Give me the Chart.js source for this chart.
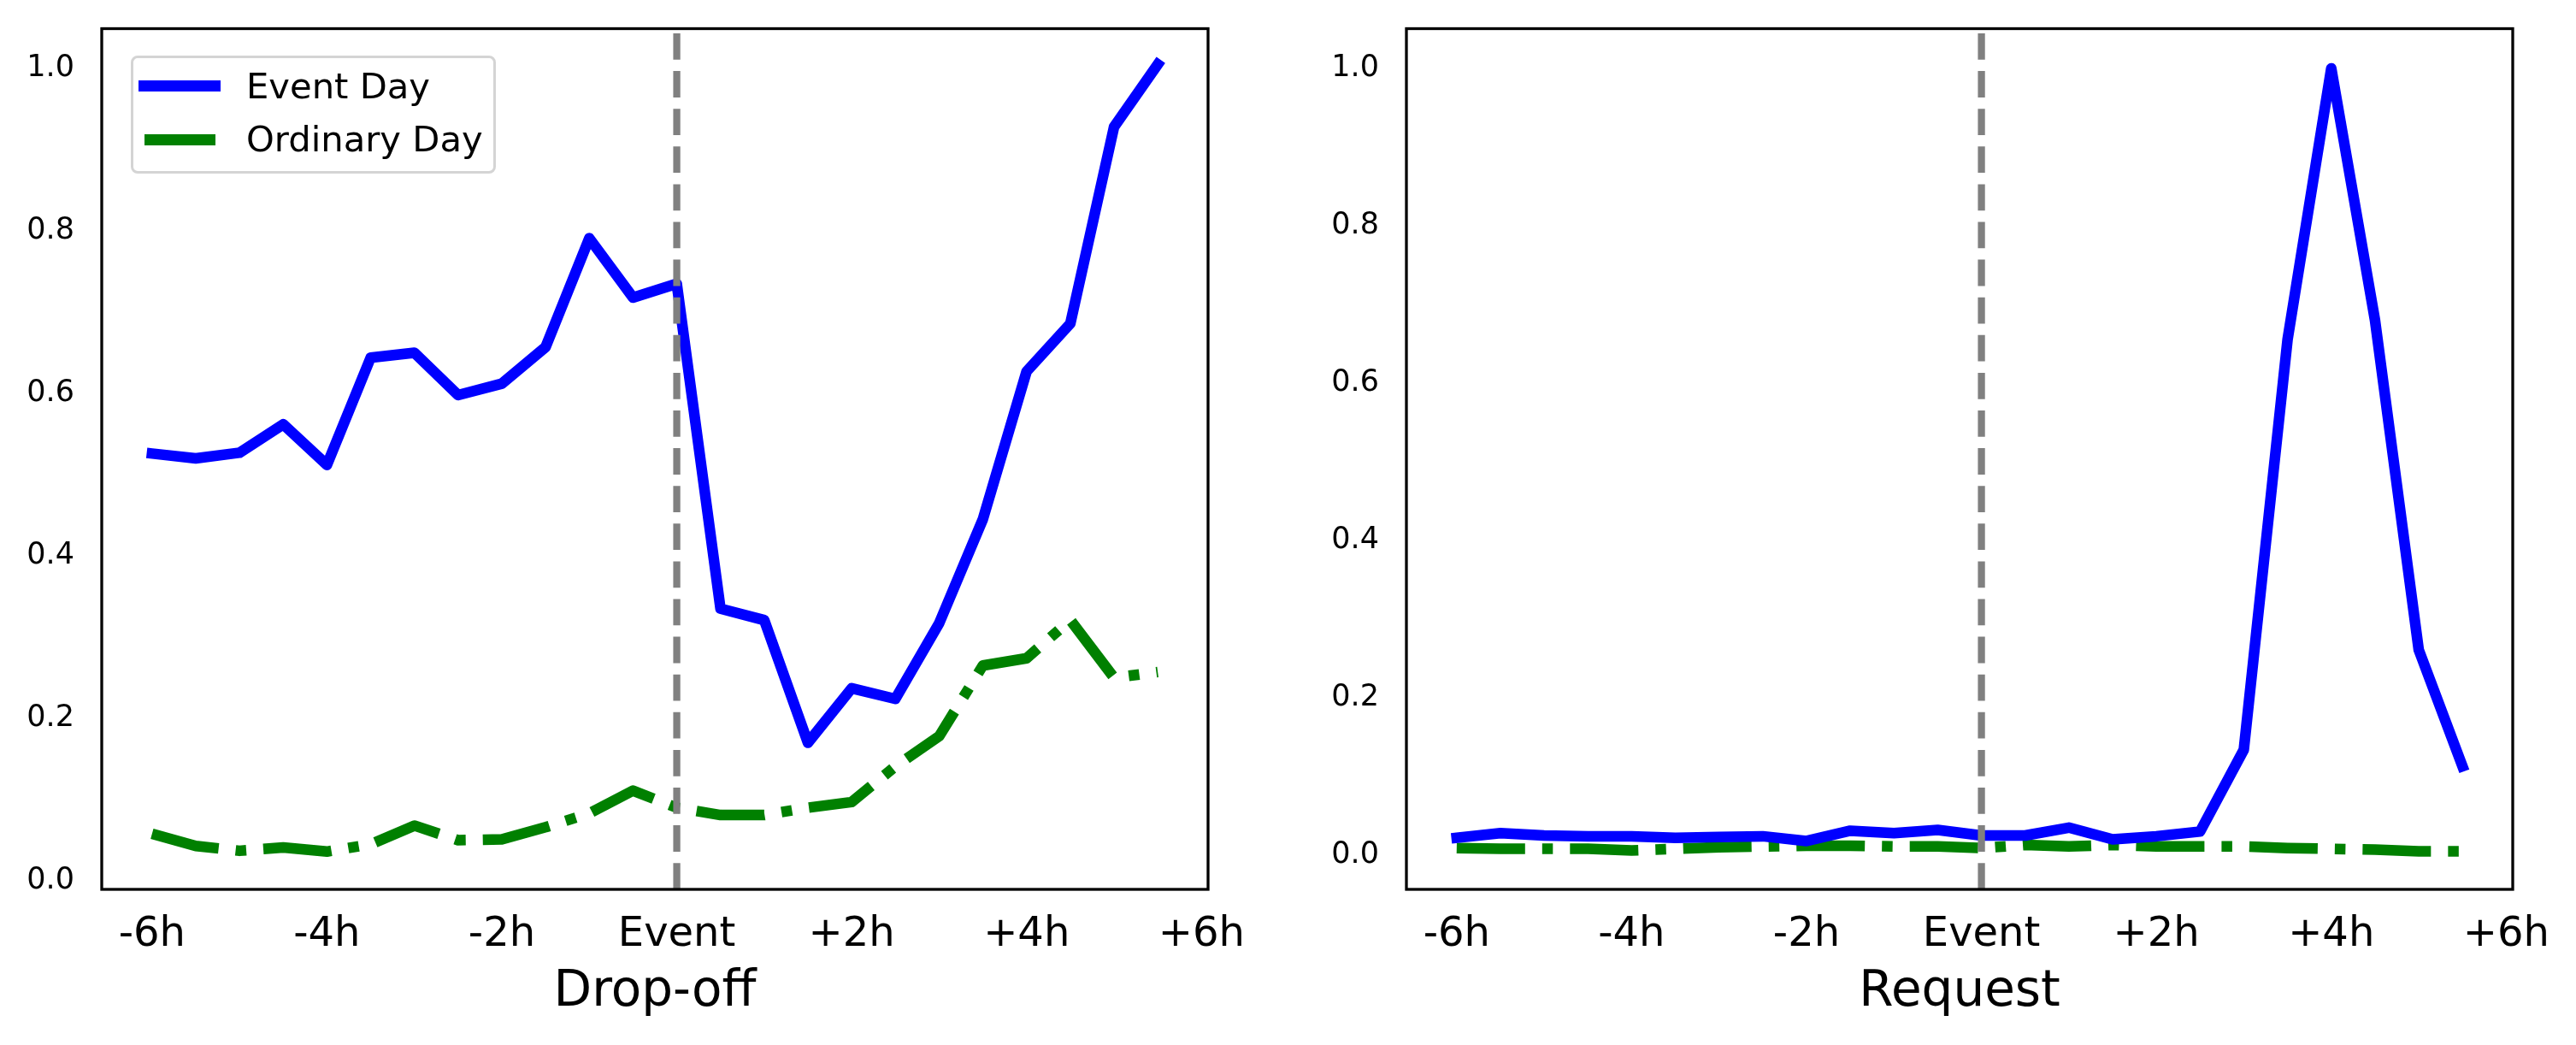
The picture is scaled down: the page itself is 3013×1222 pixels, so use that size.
<!DOCTYPE html>
<html>
<head>
<meta charset="utf-8">
<script src="https://cdn.jsdelivr.net/npm/chart.js@4.4.0/dist/chart.umd.min.js"></script>
<style>
  html, body { margin: 0; padding: 0; background: #fff; }
  body { width: 3013px; height: 1222px; position: relative; overflow: hidden; font-family: "DejaVu Sans"; }
  canvas { position: absolute; top: 0; }
  #dropCanvas { left: 0; }
  #reqCanvas { left: 1506px; }
  #legend {
    position: absolute; left: 153px; top: 65px; width: 421px; height: 132px;
    border: 3px solid #d4d4d4; border-radius: 8px; background: rgba(255,255,255,0.8);
  }
  #legend .swatch { position: absolute; }
  #legend .label {
    position: absolute; left: 132px; font-size: 41.7px; line-height: 41.7px;
    color: #000; white-space: nowrap;
  }
</style>
</head>
<body>
<canvas id="dropCanvas" width="1506" height="1222"></canvas>
<canvas id="reqCanvas" width="1507" height="1222"></canvas>
<div id="legend"></div>

<script>
// half-hour steps around the event
const hours = [-6, -5.5, -5, -4.5, -4, -3.5, -3, -2.5, -2, -1.5, -1, -0.5,
               0, 0.5, 1, 1.5, 2, 2.5, 3, 3.5, 4, 4.5, 5, 5.5];

const tickHours = [-6, -4, -2, 0, 2, 4, 6];
const tickLabels = ['-6h', '-4h', '-2h', 'Event', '+2h', '+4h', '+6h'];
const yTicks = [0, 0.2, 0.4, 0.6, 0.8, 1.0];

const dropEvent = [0.526, 0.520, 0.527, 0.562, 0.512, 0.644, 0.650, 0.598, 0.612, 0.657, 0.791, 0.718,
                   0.735, 0.335, 0.321, 0.170, 0.237, 0.224, 0.317, 0.445, 0.627, 0.686, 0.928, 1.005];
const dropOrdinary = [0.058, 0.043, 0.037, 0.041, 0.036, 0.045, 0.068, 0.050, 0.051, 0.066, 0.083, 0.111,
                      0.090, 0.081, 0.081, 0.090, 0.097, 0.141, 0.178, 0.265, 0.274, 0.321, 0.250, 0.257];

const reqEvent = [0.022, 0.028, 0.025, 0.024, 0.024, 0.022, 0.023, 0.024, 0.018, 0.031, 0.028, 0.032,
                  0.025, 0.025, 0.035, 0.020, 0.024, 0.030, 0.134, 0.655, 1.000, 0.680, 0.261, 0.113];
const reqOrdinary = [0.009, 0.008, 0.008, 0.008, 0.006, 0.008, 0.010, 0.011, 0.012, 0.012, 0.011, 0.011,
                     0.009, 0.013, 0.011, 0.013, 0.011, 0.011, 0.011, 0.009, 0.008, 0.007, 0.005, 0.005];

const X_MIN = -6.575, X_MAX = 6.075;
const FONT = 'DejaVu Sans';

// black box around the plot area
const frame = {
  id: 'frame',
  afterDraw(chart) {
    const { ctx, chartArea: a } = chart;
    ctx.save();
    ctx.strokeStyle = '#000';
    ctx.lineWidth = 3.3;
    ctx.strokeRect(a.left, a.top, a.right - a.left, a.bottom - a.top);
    ctx.restore();
  }
};

// html legend built from the chart's datasets
const htmlLegend = {
  id: 'htmlLegend',
  afterUpdate(chart, args, opts) {
    const box = document.getElementById(opts.containerID);
    box.innerHTML = '';
    chart.data.datasets.filter(d => d.label).forEach((d, i) => {
      const w = 83 + (d.borderCapStyle === 'square' ? d.borderWidth : 0);
      const sw = document.createElement('div');
      sw.className = 'swatch';
      sw.style.background = d.borderColor;
      sw.style.width = w + 'px';
      sw.style.height = d.borderWidth + 'px';
      sw.style.left = (54 - w / 2) + 'px';
      sw.style.top = (32.6 + 62.8 * i - d.borderWidth / 2) + 'px';
      const lb = document.createElement('div');
      lb.className = 'label';
      lb.style.top = (11.5 + 62.2 * i) + 'px';
      lb.textContent = d.label;
      box.appendChild(sw);
      box.appendChild(lb);
    });
  }
};

function pts(vals) {
  return hours.map((h, i) => ({ x: h, y: vals[i] }));
}

function makeChart(id, title, eventVals, ordVals, yMin, yMax, axisWidth, padRight, withLegend) {
  return new Chart(document.getElementById(id), {
    type: 'line',
    data: {
      datasets: [
        {
          label: 'Event Day', data: pts(eventVals),
          borderColor: '#0000ff', borderWidth: 12.5,
          borderCapStyle: 'square', borderJoinStyle: 'round',
          pointRadius: 0, tension: 0, order: 1
        },
        {
          label: 'Ordinary Day', data: pts(ordVals),
          borderColor: '#008000', borderWidth: 12.5,
          borderDash: [80, 20, 12.5, 20],
          borderCapStyle: 'butt', borderJoinStyle: 'round',
          pointRadius: 0, tension: 0, order: 2
        },
        {
          // event marker
          data: [{ x: 0, y: yMin }, { x: 0, y: yMax }],
          borderColor: '#808080', borderWidth: 8.3,
          borderDash: [30.8, 13.3], borderCapStyle: 'butt',
          pointRadius: 0, order: 0
        }
      ]
    },
    options: {
      responsive: false,
      animation: false,
      devicePixelRatio: 1,
      layout: { padding: { left: 0, right: padRight, top: 33.5, bottom: 0 } },
      plugins: {
        legend: { display: false },
        tooltip: { enabled: false },
        htmlLegend: withLegend ? { containerID: 'legend' } : false
      },
      scales: {
        x: {
          type: 'linear', min: X_MIN, max: X_MAX,
          afterBuildTicks: s => { s.ticks = tickHours.map(v => ({ value: v })); },
          afterFit: s => { s.height = 182; s.paddingLeft = 0; s.paddingRight = 0; },
          grid: { display: false, drawTicks: false },
          border: { display: false },
          ticks: {
            padding: 24.6, color: '#000', maxRotation: 0, autoSkip: false,
            font: { family: FONT, size: 48 },
            callback: (v, i) => tickLabels[i]
          },
          title: {
            display: true, text: title, color: '#000',
            font: { family: FONT, size: 58 },
            padding: { top: 0, bottom: 26 }
          }
        },
        y: {
          min: yMin, max: yMax,
          afterBuildTicks: s => { s.ticks = yTicks.map(v => ({ value: v })); },
          afterFit: s => { s.width = axisWidth; s.paddingTop = 0; s.paddingBottom = 0; },
          grid: { display: false, drawTicks: false },
          border: { display: false },
          ticks: {
            padding: 32, color: '#000',
            font: { family: FONT, size: 35 },
            callback: v => v.toFixed(1)
          }
        }
      }
    },
    plugins: withLegend ? [frame, htmlLegend] : [frame]
  });
}

makeChart('dropCanvas', 'Drop-off', dropEvent, dropOrdinary, -0.0105, 1.049, 119, 93, true);
makeChart('reqCanvas', 'Request', reqEvent, reqOrdinary, -0.0435, 1.0505, 139, 74, false);
</script>
</body>
</html>
